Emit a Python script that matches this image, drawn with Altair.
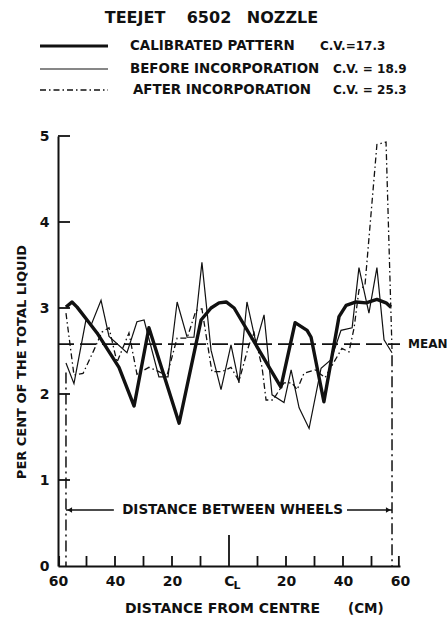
import altair as alt
import pandas as pd

FONT = "DejaVu Sans"
INK = "#111111"

# ---------------- data ----------------
cal_x = [-57.2, -55.1, -53.3, -49.8, -46.3, -38.6, -33.3, -28.1, -17.5, -9.8, -6.3, -3.5, -1.0, 1.8,
         18.2, 23.2, 27.4, 28.8, 33.3, 38.6, 41.1, 44.6, 48.1, 51.9, 55.1, 56.8]
cal_y = [3.01, 3.07, 3.01, 2.86, 2.71, 2.31, 1.86, 2.77, 1.66, 2.86, 3.00, 3.06, 3.07, 3.00,
         2.08, 2.83, 2.74, 2.66, 1.91, 2.90, 3.03, 3.07, 3.06, 3.10, 3.06, 3.01]

bef_x = [-57.2, -54.4, -50.2, -48.4, -44.9, -42.1, -35.8, -32.3, -29.8, -24.6, -21.4, -18.2,
         -14.7, -12.3, -9.5, -6.3, -2.8, 0.7, 3.5, 6.3, 9.5, 12.3, 15.1, 19.3, 21.8, 24.6,
         28.1, 32.3, 35.8, 39.3, 43.2, 45.6, 49.1, 51.9, 54.4, 57.2]
bef_y = [2.36, 2.12, 2.86, 2.80, 3.09, 2.67, 2.48, 2.84, 2.86, 2.20, 2.20, 3.07,
         2.66, 2.66, 3.53, 2.51, 2.05, 2.57, 2.13, 3.07, 2.59, 2.92, 1.99, 1.90, 2.28, 1.84,
         1.60, 2.30, 2.40, 2.74, 2.77, 3.47, 2.94, 3.47, 2.63, 2.48]

aft_x = [-57.2, -54.4, -51.2, -47.4, -44.6, -42.1, -39.3, -35.1, -32.3, -28.1,
         -24.6, -21.8, -18.2, -14.7, -11.6, -9.5, -6.0, -2.5, 0.7, 3.5,
         7.0, 8.8, 11.6, 13.0, 15.4, 19.3, 22.1, 23.9, 26.3, 30.2,
         33.7, 39.6, 42.1, 43.9, 45.6, 47.7, 51.9, 55.1, 57.2]
aft_y = [2.94, 2.22, 2.24, 2.51, 2.72, 2.77, 2.37, 2.71, 2.23, 2.31,
         2.26, 2.21, 2.65, 2.65, 2.97, 2.99, 2.26, 2.26, 2.31, 2.15,
         2.57, 2.71, 2.31, 1.93, 1.93, 2.13, 2.13, 2.05, 2.24, 2.28,
         2.19, 2.53, 2.49, 2.77, 3.21, 3.26, 4.90, 4.93, 2.51]

mean_value = 2.58
mean_span = [-60, 60]
wheel_x = [-57.2, 57.2]
wheel_top = [2.25, 2.45]
arrow_y = 0.65
arrow_left = [-57.2, -40.4]
arrow_right = [41.4, 57.2]

x_label_values = [-60, -40, -20, 0, 20, 40, 60]
x_tick_values = [-59.6, -50, -40, -30, -20, -10, 0, 10, 20, 30, 40, 50, 59.6]
y_tick_values = [1, 2, 3, 4, 5]

legend_rows = [
    ("CALIBRATED PATTERN", "C.V.=17.3"),
    ("BEFORE INCORPORATION", "C.V. = 18.9"),
    ("AFTER INCORPORATION", "C.V. = 25.3"),
]

# ---------------- layout ----------------
W, H = 342, 430
XS = alt.Scale(domain=[-60, 60], nice=False, zero=False)
YS = alt.Scale(domain=[0, 5], nice=False, zero=True)
PX_X = 120 / W   # data units per pixel, x
PX_Y = 5 / H     # data units per pixel, y

one = pd.DataFrame({"k": [0]})


def frame(xs, ys):
    return pd.DataFrame({"x": xs, "y": ys})


x_axis = alt.Axis(values=x_label_values, labelExpr="datum.value == 0 ? 'C' : '' + abs(datum.value)",
                  ticks=False, grid=False, domainColor=INK, domainWidth=2, labelFont=FONT,
                  labelFontSize=14, labelFontWeight="bold", labelColor=INK, labelPadding=8,
                  labelFlush=False, title=None)
y_axis = alt.Axis(values=[0, 1, 2, 3, 4, 5], format="d", ticks=False, grid=False, domainColor=INK,
                  domainWidth=2, labelFont=FONT, labelFontSize=14, labelFontWeight="bold", labelColor=INK,
                  labelPadding=9, title=None)

base_axes = alt.Chart(frame(mean_span, [mean_value, mean_value])).mark_line(
    stroke=INK, strokeWidth=1.6, strokeDash=[16, 6]
).encode(x=alt.X("x:Q", scale=XS, axis=x_axis), y=alt.Y("y:Q", scale=YS, axis=y_axis))

cal = alt.Chart(frame(cal_x, cal_y)).mark_line(stroke=INK, strokeWidth=3.4, strokeJoin="round").encode(
    x=alt.X("x:Q", scale=XS), y=alt.Y("y:Q", scale=YS))
bef = alt.Chart(frame(bef_x, bef_y)).mark_line(stroke=INK, strokeWidth=1.2).encode(
    x=alt.X("x:Q", scale=XS), y=alt.Y("y:Q", scale=YS))
aft = alt.Chart(frame(aft_x, aft_y)).mark_line(stroke=INK, strokeWidth=1.3, strokeDash=[6, 3, 1.5, 3]).encode(
    x=alt.X("x:Q", scale=XS), y=alt.Y("y:Q", scale=YS))

wheels = alt.Chart(pd.DataFrame({"x": wheel_x, "top": wheel_top, "bottom": [0, 0]})).mark_rule(
    stroke=INK, strokeWidth=1.5, strokeDash=[11, 4, 2, 4]
).encode(x=alt.X("x:Q", scale=XS), y=alt.Y("top:Q", scale=YS), y2="bottom:Q")

arrows = alt.Chart(pd.DataFrame({"a": [arrow_left[0], arrow_right[0]], "b": [arrow_left[1], arrow_right[1]],
                                 "y": [arrow_y, arrow_y]})).mark_rule(stroke=INK, strokeWidth=1.5).encode(
    x=alt.X("a:Q", scale=XS), x2="b:Q", y=alt.Y("y:Q", scale=YS))
heads = alt.Chart(pd.DataFrame({"x": [wheel_x[0] + 1.3, wheel_x[1] - 1.3], "y": [arrow_y, arrow_y],
                                "s": ["triangle-left", "triangle-right"]})).mark_point(
    filled=True, color=INK, size=30, opacity=1
).encode(x=alt.X("x:Q", scale=XS), y=alt.Y("y:Q", scale=YS),
         shape=alt.Shape("s:N", scale=alt.Scale(domain=["triangle-left", "triangle-right"],
                                                range=["triangle-left", "triangle-right"]), legend=None))

wheel_text = alt.Chart(one).mark_text(font=FONT, fontSize=13.5, fontWeight="bold", color=INK,
                                      baseline="middle", align="center").encode(
    x=alt.value(174.5), y=alt.value(374), text=alt.value("DISTANCE BETWEEN WHEELS"))

# inward ticks (x ticks incl. the tall centre-line tick), drawn through the scales
x_tick_len = [31 * PX_Y if v == 0 else 10 * PX_Y for v in x_tick_values]
xticks = alt.Chart(pd.DataFrame({"tx": x_tick_values, "ta": [0.0] * len(x_tick_values), "tb": x_tick_len})).mark_rule(
    stroke=INK, strokeWidth=1.8).encode(
    x=alt.X("tx:Q", scale=XS), y=alt.Y("ta:Q", scale=YS), y2="tb:Q")
yticks = alt.Chart(pd.DataFrame({"ty": y_tick_values, "ua": [-60.0] * len(y_tick_values),
                                 "ub": [-60 + 12 * PX_X] * len(y_tick_values)})).mark_rule(
    stroke=INK, strokeWidth=1.8).encode(
    y=alt.Y("ty:Q", scale=YS), x=alt.X("ua:Q", scale=XS), x2="ub:Q")

cl_sub = alt.Chart(pd.DataFrame({"x": [0]})).mark_text(font=FONT, fontSize=11, fontWeight="bold", color=INK,
                                                       align="center", baseline="middle", dx=8).encode(
    x=alt.X("x:Q", scale=XS), y=alt.value(H + 20), text=alt.value("L"))

mean_text = alt.Chart(one).mark_text(font=FONT, fontSize=12, fontWeight="bold", color=INK,
                                     align="left", baseline="middle").encode(
    x=alt.value(350), y=alt.value(208), text=alt.value("MEAN"))


def txt(s, x, y, size, align="left", angle=0):
    kw = dict(font=FONT, fontSize=size, fontWeight="bold", color=INK, align=align, baseline="middle")
    if angle:
        kw["angle"] = angle
    return alt.Chart(one).mark_text(**kw).encode(x=alt.value(x), y=alt.value(y), text=alt.value(s))


annotations = [
    txt("TEEJET", 77, -118, 16, "center"),
    txt("6502", 151, -118, 16, "center"),
    txt("NOZZLE", 224.5, -118, 16, "center"),
    txt(legend_rows[0][0], 72, -90, 13.4), txt(legend_rows[0][1], 262, -90, 12),
    txt(legend_rows[1][0], 72, -67, 13.4), txt(legend_rows[1][1], 275, -67, 12),
    txt(legend_rows[2][0], 75, -46, 13.4), txt(legend_rows[2][1], 275, -46, 12),
    txt("DISTANCE FROM CENTRE", 67, 473, 14), txt("(CM)", 290, 473, 13.5),
    txt("PER CENT OF THE TOTAL LIQUID", -36, 226, 13, "center", 270),
]

leg_lines = [
    alt.Chart(one).mark_rule(stroke=INK, strokeWidth=3.2).encode(x=alt.value(-18), x2=alt.value(50), y=alt.value(-90)),
    alt.Chart(one).mark_rule(stroke=INK, strokeWidth=1.2).encode(x=alt.value(-18), x2=alt.value(50), y=alt.value(-67)),
    alt.Chart(one).mark_rule(stroke=INK, strokeWidth=1.3, strokeDash=[6, 3, 1.5, 3]).encode(
        x=alt.value(-18), x2=alt.value(50), y=alt.value(-46)),
]

chart = alt.layer(
    base_axes, xticks, yticks, wheels, arrows, heads, wheel_text, cl_sub,
    aft, bef, cal, mean_text, *annotations, *leg_lines
).properties(
    width=W, height=H,
    autosize=alt.AutoSizeParams(type="none"),
    padding={"left": 58, "top": 136, "right": 47, "bottom": 52},
    background="white",
).configure_view(stroke=None)

chart.save("out.html", embed_options={"renderer": "svg", "actions": False})
